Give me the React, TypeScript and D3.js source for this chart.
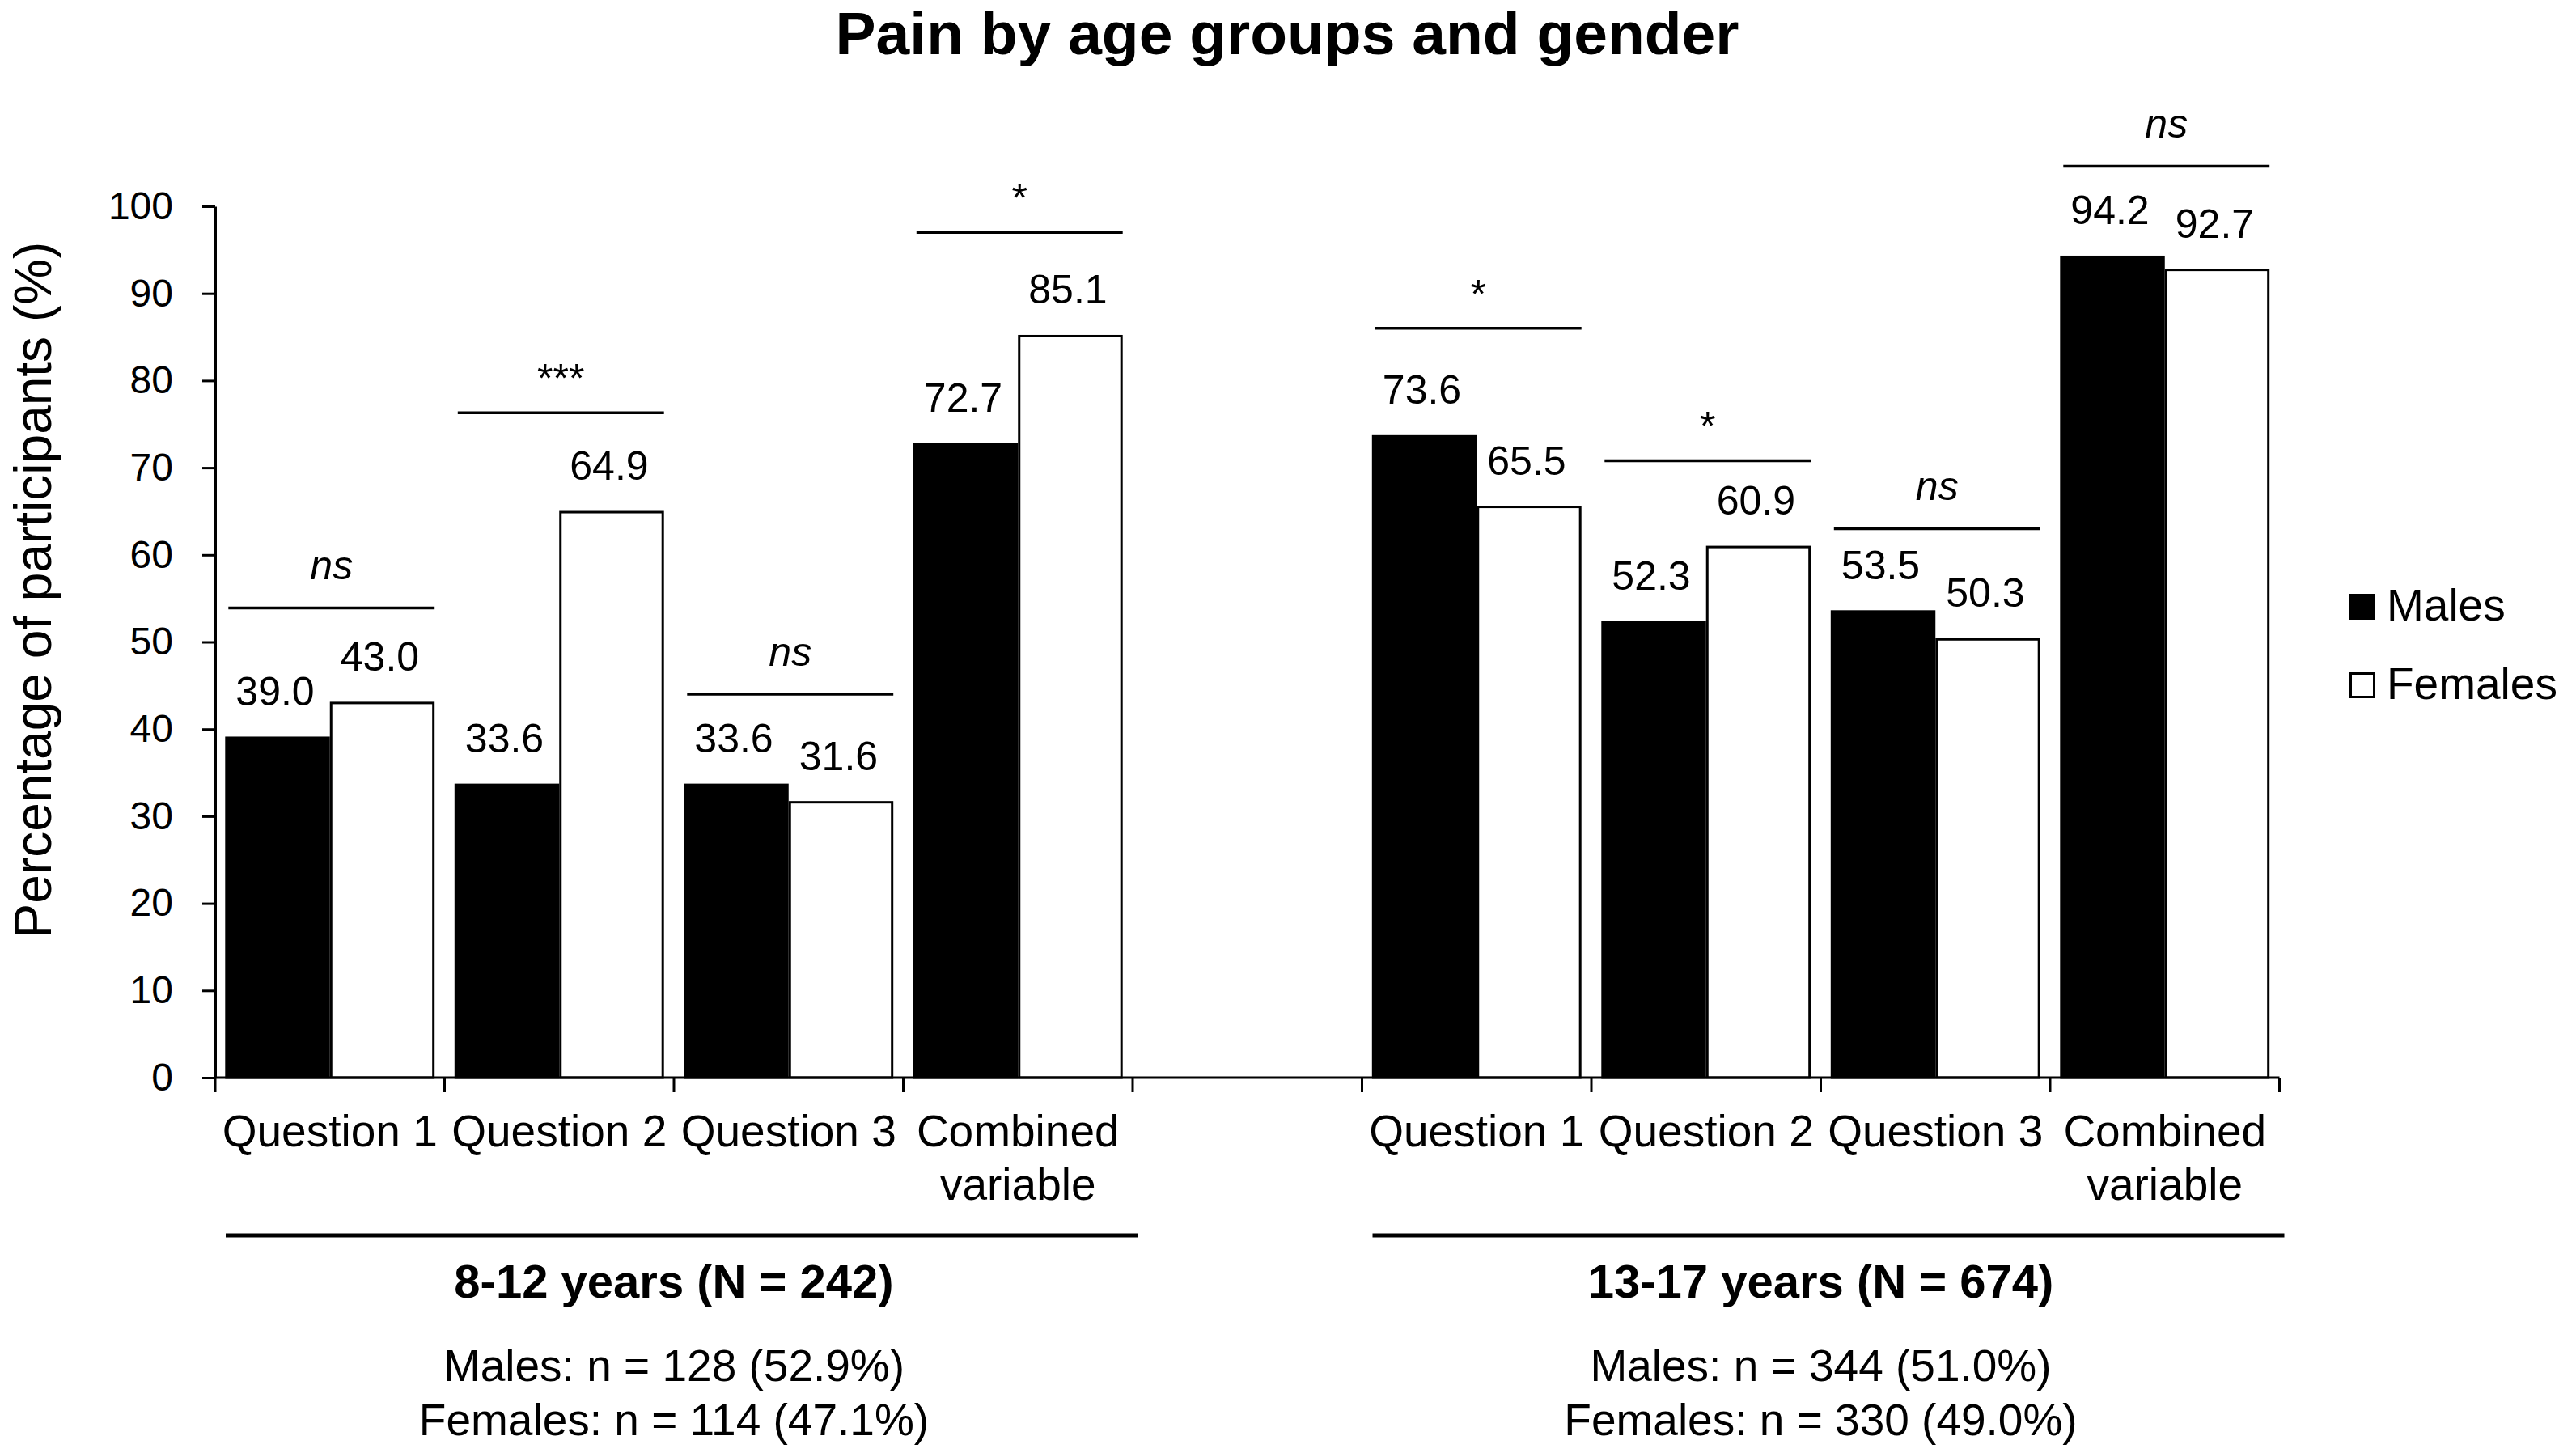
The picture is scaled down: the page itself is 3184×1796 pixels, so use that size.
import React, { useEffect, useRef } from 'react';
import * as d3 from 'd3';

// Chart data
const ageGroups = ['8-12 years (N = 242)', '13-17 years (N = 674)'];
const groupMaleCounts = ['Males: n = 128 (52.9%)', 'Males: n = 344 (51.0%)'];
const groupFemaleCounts = ['Females: n = 114 (47.1%)', 'Females: n = 330 (49.0%)'];
const categories = ['Question 1', 'Question 2', 'Question 3', 'Combined variable'];
const categoryLines = [['Question 1'], ['Question 2'], ['Question 3'], ['Combined', 'variable']];
const series = ['Males', 'Females'];
const malesValues = [
  [39.0, 33.6, 33.6, 72.7],
  [73.6, 52.3, 53.5, 94.2],
];
const femalesValues = [
  [43.0, 64.9, 31.6, 85.1],
  [65.5, 60.9, 50.3, 92.7],
];
const significance = [
  ['ns', '***', 'ns', '*'],
  ['*', '*', 'ns', 'ns'],
];
const bracketLevels = [
  [53.9, 76.3, 44.0, 97.0],
  [86.0, 70.8, 63.0, 104.6],
];
const yTicks = [0, 10, 20, 30, 40, 50, 60, 70, 80, 90, 100];

const WIDTH = 3184;
const HEIGHT = 1796;
const FONT = "'Liberation Sans', Arial, Helvetica, sans-serif";

const App: React.FC = () => {
  const svgRef = useRef<SVGSVGElement>(null);

  useEffect(() => {
    if (!svgRef.current) return;
    const svg = d3.select(svgRef.current);
    svg.selectAll('*').remove();

    const plot = { left: 266, right: 2817.5, top: 255, bottom: 1332 };

    // slots: 4 categories, an empty gap slot, 4 categories
    const slots: string[] = [];
    ageGroups.forEach((_, g) => {
      if (g > 0) slots.push('gap');
      categories.forEach(c => slots.push(`${g}|${c}`));
    });

    const x = d3.scaleBand<string>().domain(slots).range([plot.left, plot.right]);
    const xInner = d3.scaleBand<string>()
      .domain(series)
      .range([0, x.step()])
      .paddingInner(0)
      .paddingOuter(0.095);
    const y = d3.scaleLinear().domain([0, 100]).range([plot.bottom, plot.top]);

    const g = svg.append('g').style('font-family', FONT);

    // Title
    g.append('text')
      .attr('x', 1591)
      .attr('y', 67)
      .attr('text-anchor', 'middle')
      .style('font-size', '75px')
      .style('font-weight', 'bold')
      .text('Pain by age groups and gender');

    // Y axis
    const yAxis = d3.axisLeft(y)
      .tickValues(yTicks)
      .tickSize(16)
      .tickSizeOuter(0)
      .tickPadding(36)
      .tickFormat(d => String(d));
    const yAxisG = g.append('g')
      .attr('transform', `translate(${plot.left},0)`)
      .call(yAxis as any);
    yAxisG.select('.domain').attr('stroke', '#000').attr('stroke-width', 3);
    yAxisG.selectAll('.tick line').attr('stroke', '#000').attr('stroke-width', 3);
    yAxisG.selectAll('.tick text')
      .style('font-family', FONT)
      .style('font-size', '48px')
      .attr('fill', '#000');
    yAxisG.attr('font-family', null).attr('font-size', null);

    g.append('text')
      .attr('transform', 'translate(63,729) rotate(-90)')
      .attr('text-anchor', 'middle')
      .style('font-size', '64px')
      .text('Percentage of participants (%)');

    // Bars
    ageGroups.forEach((_, gi) => {
      categories.forEach((cat, ci) => {
        const slotX = x(`${gi}|${cat}`)!;
        const vals = [malesValues[gi][ci], femalesValues[gi][ci]];
        series.forEach((s, si) => {
          const bx = slotX + xInner(s)!;
          const bw = xInner.bandwidth();
          const v = vals[si];
          g.append('rect')
            .attr('x', bx + 1.5)
            .attr('y', y(v))
            .attr('width', bw - 3)
            .attr('height', y(0) - y(v))
            .attr('fill', si === 0 ? '#000' : '#fff')
            .attr('stroke', '#000')
            .attr('stroke-width', 3);
          g.append('text')
            .attr('x', bx + bw / 2 - 3)
            .attr('y', y(v) - 40)
            .attr('text-anchor', 'middle')
            .style('font-size', '50px')
            .text(v.toFixed(1));
        });

        // significance bracket
        const by = y(bracketLevels[gi][ci]);
        const x1 = slotX + xInner('Males')! + 4;
        const x2 = slotX + xInner('Females')! + xInner.bandwidth();
        g.append('line')
          .attr('x1', x1)
          .attr('x2', x2)
          .attr('y1', by)
          .attr('y2', by)
          .attr('stroke', '#000')
          .attr('stroke-width', 3.5);
        const sig = significance[gi][ci];
        const isNs = sig === 'ns';
        g.append('text')
          .attr('x', (x1 + x2) / 2)
          .attr('y', by - (isNs ? 35 : 25))
          .attr('text-anchor', 'middle')
          .style('font-size', '50px')
          .style('font-style', isNs ? 'italic' : 'normal')
          .text(sig);

        // category label
        categoryLines[ci].forEach((line, li) => {
          g.append('text')
            .attr('x', slotX + x.step() / 2)
            .attr('y', 1417 + li * 66)
            .attr('text-anchor', 'middle')
            .style('font-size', '55px')
            .text(line);
        });
      });
    });

    // X axis line and tick marks at slot boundaries
    g.append('line')
      .attr('x1', plot.left)
      .attr('x2', plot.right)
      .attr('y1', y(0))
      .attr('y2', y(0))
      .attr('stroke', '#000')
      .attr('stroke-width', 3);
    const boundaries = slots.map(s => x(s)!).concat([x.range()[1]]);
    g.selectAll('.x-tick')
      .data(boundaries)
      .enter()
      .append('line')
      .attr('x1', d => d)
      .attr('x2', d => d)
      .attr('y1', y(0))
      .attr('y2', y(0) + 18)
      .attr('stroke', '#000')
      .attr('stroke-width', 3);

    // Age group annotations
    ageGroups.forEach((label, gi) => {
      const start = x(`${gi}|${categories[0]}`)!;
      const end = x(`${gi}|${categories[categories.length - 1]}`)! + x.step();
      const cx = (start + end) / 2;
      g.append('line')
        .attr('x1', start + 13)
        .attr('x2', end + 6)
        .attr('y1', 1527)
        .attr('y2', 1527)
        .attr('stroke', '#000')
        .attr('stroke-width', 5);
      g.append('text')
        .attr('x', cx)
        .attr('y', 1604)
        .attr('text-anchor', 'middle')
        .style('font-size', '58px')
        .style('font-weight', 'bold')
        .text(label);
      g.append('text')
        .attr('x', cx)
        .attr('y', 1707)
        .attr('text-anchor', 'middle')
        .style('font-size', '55px')
        .text(groupMaleCounts[gi]);
      g.append('text')
        .attr('x', cx)
        .attr('y', 1774)
        .attr('text-anchor', 'middle')
        .style('font-size', '55px')
        .text(groupFemaleCounts[gi]);
    });

    // Legend
    series.forEach((s, si) => {
      const ly = 734 + si * 97;
      g.append('rect')
        .attr('x', 2905.5)
        .attr('y', ly + 1.5)
        .attr('width', 29)
        .attr('height', 29)
        .attr('fill', si === 0 ? '#000' : '#fff')
        .attr('stroke', '#000')
        .attr('stroke-width', 3);
      g.append('text')
        .attr('x', 2950)
        .attr('y', ly + 33)
        .style('font-size', '55px')
        .text(s);
    });
  }, []);

  return (
    <svg
      ref={svgRef}
      width={WIDTH}
      height={HEIGHT}
      style={{ position: 'absolute', left: 0, top: 0, background: '#fff' }}
    />
  );
};

export default App;
